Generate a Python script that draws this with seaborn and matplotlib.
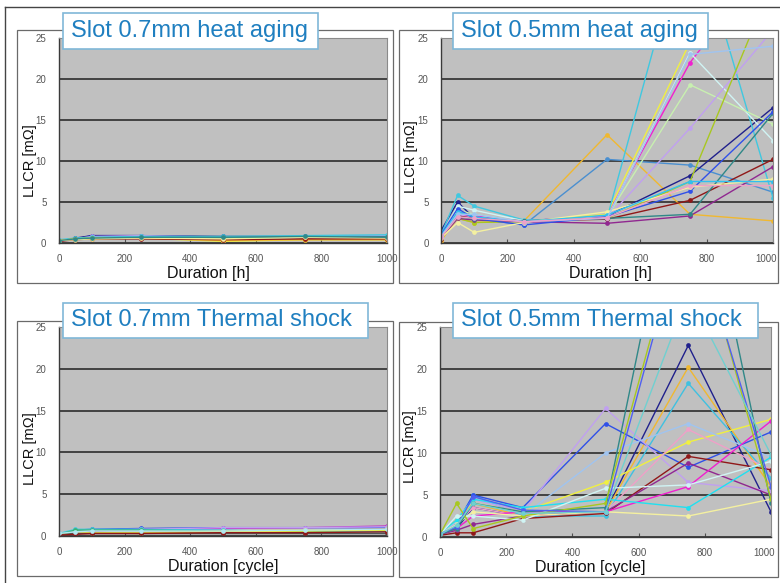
import numpy as np
import pandas as pd
import seaborn as sns
import matplotlib.pyplot as plt
from matplotlib.patches import Rectangle
from matplotlib.lines import Line2D
from matplotlib.transforms import ScaledTranslation

# durations (same sampling for both tests)
x_heat = [0, 50, 100, 250, 500, 750, 1000]
x_shock = [0, 50, 100, 250, 500, 750, 1000]

# Slot 0.7mm heat aging
ha07_colors = ['#3050E8', '#20208C', '#C0A0F0', '#40C8E0', '#3CB371',
               '#F0F040', '#F0B830', '#901818', '#F4F0A0', '#308888']
ha07_values = [
    [0.3, 0.5, 0.9, 0.9, 0.7, 0.8, 0.9],
    [0.2, 0.6, 0.9, 0.9, 0.8, 0.8, 0.8],
    [0.3, 0.5, 0.8, 0.9, 0.7, 0.8, 0.9],
    [0.4, 0.6, 0.7, 0.8, 0.8, 0.9, 1.0],
    [0.3, 0.5, 0.6, 0.6, 0.6, 0.7, 0.7],
    [0.3, 0.5, 0.6, 0.6, 0.2, 0.4, 0.4],
    [0.3, 0.5, 0.5, 0.6, 0.3, 0.4, 0.4],
    [0.2, 0.4, 0.5, 0.5, 0.4, 0.5, 0.5],
    [0.3, 0.4, 0.5, 0.6, 0.5, 0.7, 0.6],
    [0.3, 0.5, 0.6, 0.7, 0.7, 0.8, 0.7],
]

# Slot 0.5mm heat aging
ha05_colors = ['#F0B830', '#4A8FD0', '#20208C', '#F020D0', '#F0F040', '#40C8E0',
               '#D0F4F4', '#C8F0B0', '#C0A0F0', '#A8C820', '#901818', '#902890',
               '#308888', '#3050E8', '#F4F0A0', '#30C0F0', '#A0C4F0', '#F0A0C8']
ha05_values = [
    [0.3, 3.0, 2.5, 2.7, 13.2, 3.5, 2.7],
    [1.0, 4.0, 3.0, 2.2, 10.2, 9.5, 6.2],
    [1.5, 5.0, 3.0, 2.7, 3.3, 8.2, 16.5],
    [1.0, 3.5, 3.3, 2.7, 3.3, 22.0, 35.0],
    [0.8, 3.0, 2.8, 2.6, 3.5, 24.5, 40.0],
    [1.0, 5.8, 4.5, 2.8, 3.0, 40.0, 5.5],
    [0.8, 4.5, 4.0, 2.7, 3.0, 23.2, 12.5],
    [0.9, 4.0, 3.5, 2.6, 3.2, 19.3, 14.5],
    [0.7, 3.5, 3.0, 2.5, 3.0, 14.0, 26.0],
    [0.8, 3.0, 2.5, 2.6, 3.0, 7.5, 32.0],
    [0.5, 3.3, 3.0, 2.7, 2.9, 5.2, 10.2],
    [0.6, 3.0, 2.8, 2.6, 2.4, 3.3, 9.3],
    [0.7, 3.2, 2.9, 2.7, 3.0, 3.5, 15.8],
    [1.0, 4.2, 3.0, 2.2, 3.2, 6.3, 16.0],
    [0.6, 2.5, 1.3, 2.5, 3.8, 6.8, 7.8],
    [0.9, 3.8, 3.2, 2.6, 3.4, 7.5, 7.5],
    [0.8, 3.5, 3.5, 2.6, 3.0, 23.0, 24.0],
    [0.7, 3.2, 3.0, 2.6, 3.1, 7.0, 7.0],
]

# Slot 0.7mm thermal shock
ts07_colors = ['#3050E8', '#C030C0', '#C0A0F0', '#40C8E0', '#3CB371',
               '#F0B830', '#F0F040', '#555555', '#901818', '#B0E8F0']
ts07_values = [
    [0.2, 0.7, 0.8, 0.9, 1.0, 1.0, 1.0],
    [0.3, 0.5, 0.6, 0.8, 0.9, 1.0, 1.2],
    [0.2, 0.6, 0.7, 0.8, 1.0, 1.0, 1.1],
    [0.3, 0.8, 0.8, 0.8, 0.7, 0.5, 0.5],
    [0.2, 0.7, 0.7, 0.7, 0.6, 0.6, 0.7],
    [0.2, 0.3, 0.4, 0.3, 0.6, 0.7, 0.8],
    [0.2, 0.3, 0.4, 0.4, 0.5, 0.6, 0.7],
    [0.2, 0.3, 0.3, 0.3, 0.3, 0.3, 0.3],
    [0.1, 0.2, 0.3, 0.3, 0.4, 0.4, 0.5],
    [0.3, 0.5, 0.6, 0.6, 0.6, 0.7, 0.8],
]

# Slot 0.5mm thermal shock
ts05_colors = ['#20208C', '#F0B830', '#40C0E0', '#3050E8', '#C0A0F0', '#F0F040',
               '#F0A0C8', '#A0C4F0', '#901818', '#902890', '#F020D0', '#20E0F0',
               '#F4F0A0', '#D0F4F4', '#308888', '#A8C820', '#5060F0', '#70D0D0']
ts05_values = [
    [0.3, 1.0, 3.5, 2.5, 3.0, 22.8, 3.0],
    [0.5, 2.0, 4.0, 2.5, 3.0, 20.2, 6.0],
    [0.3, 1.5, 5.0, 2.5, 2.5, 18.3, 7.0],
    [0.5, 1.5, 5.0, 3.5, 13.5, 8.3, 12.5],
    [0.4, 2.0, 4.5, 3.0, 15.3, 6.5, 5.5],
    [0.3, 2.0, 4.0, 3.0, 6.5, 11.3, 14.0],
    [0.4, 1.5, 3.5, 2.5, 3.0, 12.8, 8.0],
    [0.3, 1.8, 3.0, 2.5, 10.0, 13.5, 9.5],
    [0.2, 0.5, 0.5, 2.2, 2.8, 9.6, 8.0],
    [0.3, 0.8, 1.5, 2.5, 3.0, 8.8, 5.0],
    [0.3, 1.0, 2.5, 3.0, 3.0, 6.0, 13.8],
    [0.5, 2.0, 4.5, 3.5, 4.5, 3.5, 9.5],
    [0.3, 1.5, 3.0, 2.5, 3.0, 2.5, 4.5],
    [0.3, 2.5, 2.5, 2.0, 5.8, 6.2, 9.0],
    [0.3, 1.0, 4.0, 3.0, 3.5, 51.0, 4.0],
    [0.3, 4.0, 1.0, 2.5, 4.0, 40.0, 4.5],
    [0.4, 1.2, 4.8, 3.2, 3.0, 39.0, 6.0],
    [0.3, 1.4, 4.0, 2.8, 3.0, 29.0, 9.8],
]

plt.rcParams['font.family'] = ['Liberation Sans', 'DejaVu Sans']

fig = plt.figure(figsize=(7.8, 5.83), dpi=100)
W, H = 780.0, 583.0


def fig_rect(x0, y0, x1, y1):
    # pixel box (top-left origin) -> figure fraction
    return [x0 / W, 1 - y1 / H, (x1 - x0) / W, (y1 - y0) / H]


def long_df(xs, rows):
    recs = []
    for i, row in enumerate(rows):
        for xv, yv in zip(xs, row):
            recs.append({'Duration': xv, 'LLCR': yv, 'sample': 's%d' % i})
    return pd.DataFrame(recs)


panels = [
    # (axes px box, frame px box, title box px, title, xlabel, xs, rows, colors, xlabel x, ylabel y)
    ((59, 38, 387, 243), (17, 30, 393, 283), (63, 13, 318, 49),
     'Slot 0.7mm heat aging', 'Duration [h]', x_heat, ha07_values, ha07_colors, 0.457, 0.40),
    ((441, 38, 773, 243), (399, 30, 778, 283), (453, 13, 708, 49),
     'Slot 0.5mm heat aging', 'Duration [h]', x_heat, ha05_values, ha05_colors, 0.51, 0.42),
    ((59, 327, 387, 536), (17, 321, 393, 576), (63, 303, 368, 338),
     'Slot 0.7mm Thermal shock', 'Duration [cycle]', x_shock, ts07_values, ts07_colors, 0.50, 0.42),
    ((440, 327, 771, 537), (399, 322, 778, 577), (453, 303, 758, 338),
     'Slot 0.5mm Thermal shock', 'Duration [cycle]', x_shock, ts05_values, ts05_colors, 0.453, 0.43),
]

for ax_box, frame_box, tbox, title, xlabel, xs, rows, colors, xl_x, yl_y in panels:
    # chart area frame
    fx0, fy0, fx1, fy1 = frame_box
    fig.add_artist(Rectangle((fx0 / W, 1 - fy1 / H), (fx1 - fx0) / W, (fy1 - fy0) / H,
                             transform=fig.transFigure, fill=False,
                             edgecolor='#6a6a6a', lw=0.9, zorder=-5))

    ax = fig.add_axes(fig_rect(*ax_box))
    ax.set_facecolor('#C0C0C0')
    df = long_df(xs, rows)
    names = ['s%d' % i for i in range(len(rows))]
    sns.lineplot(data=df, x='Duration', y='LLCR', hue='sample', hue_order=names,
                 palette=dict(zip(names, colors)), estimator=None, errorbar=None,
                 marker='o', markersize=3.4, markeredgewidth=0, linewidth=1.0,
                 legend=False, ax=ax)
    ax.set_xlim(0, 1000)
    ax.set_ylim(0, 25)
    ax.set_xticks([0, 200, 400, 600, 800, 1000])
    ax.set_yticks([0, 5, 10, 15, 20, 25])
    ax.yaxis.grid(True, color='#383838', lw=1.3)
    ax.set_axisbelow(True)
    ax.tick_params(axis='x', direction='in', length=3, color='#505050',
                   labelsize=7, labelcolor='#555555', pad=8)
    ax.tick_params(axis='y', length=0, labelsize=7, labelcolor='#555555', pad=9)
    for side in ['top', 'right']:
        ax.spines[side].set_color('#8a8a8a')
        ax.spines[side].set_linewidth(0.8)
    for side in ['left', 'bottom']:
        ax.spines[side].set_color('#3a3a3a')
        ax.spines[side].set_linewidth(1.0)

    # keep the last "1000" inside the page on the right-hand charts
    if ax_box[2] > 700:
        last = ax.get_xticklabels()[-1]
        last.set_transform(last.get_transform() +
                           ScaledTranslation(-5 / 72, 0, fig.dpi_scale_trans))

    ax.set_xlabel(xlabel, fontsize=11.5, color='#111111')
    ax.xaxis.set_label_coords(xl_x, -0.11)
    ax.set_ylabel('LLCR [mΩ]', fontsize=10.5, color='#111111')
    ax.yaxis.set_label_coords(-0.068, yl_y)

    # title box overlapping the top of the chart
    tx0, ty0, tx1, ty1 = tbox
    fig.add_artist(Rectangle((tx0 / W, 1 - ty1 / H), (tx1 - tx0) / W, (ty1 - ty0) / H,
                             transform=fig.transFigure, facecolor='white',
                             edgecolor='#80B8D8', lw=1.2, zorder=10))
    fig.text((tx0 + 8) / W, 1 - (ty0 + ty1) / 2 / H, title, fontsize=17,
             color='#1F7FC0', ha='left', va='center', zorder=11)

# outer page border (top and left)
fig.add_artist(Line2D([5 / W, 1], [1 - 7 / H, 1 - 7 / H], transform=fig.transFigure,
                      color='#444444', lw=1.0))
fig.add_artist(Line2D([5 / W, 5 / W], [0, 1 - 7 / H], transform=fig.transFigure,
                      color='#444444', lw=1.0))

plt.savefig('out.png', dpi=100)
